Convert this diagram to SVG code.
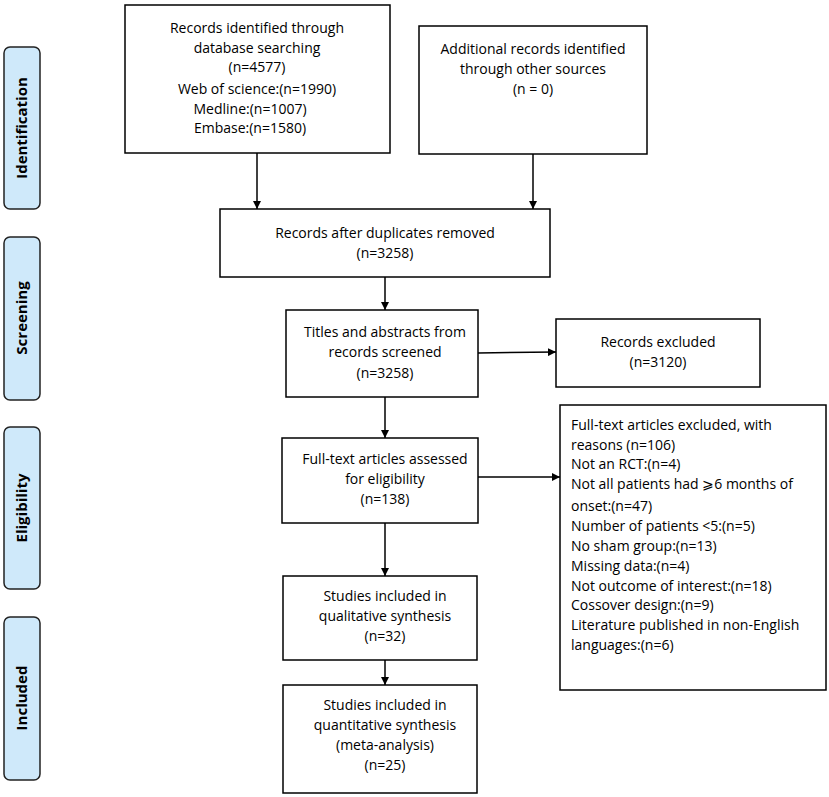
<svg xmlns="http://www.w3.org/2000/svg" width="829" height="797" viewBox="0 0 829 797">
<defs>
<marker id="ah" viewBox="0 0 10 10" refX="10" refY="5" markerWidth="8" markerHeight="8" markerUnits="userSpaceOnUse" orient="auto">
<path d="M0,0 L10,5 L0,10 z" fill="#000"/>
</marker>
<style>
.box{fill:#fff;stroke:#000;stroke-width:1.5}
.side{fill:#cfe9fa;stroke:#222;stroke-width:1.5}
.t{font-family:"Open Sans","Liberation Sans",sans-serif;font-size:14px;fill:#000;text-anchor:middle}
.l{text-anchor:start}
.s{font-family:"Open Sans","Liberation Sans",sans-serif;font-size:15px;font-weight:bold;fill:#000;text-anchor:middle}
.c{stroke:#000;stroke-width:1.5;fill:none;marker-end:url(#ah)}
</style>
</defs>
<rect width="829" height="797" fill="#fff"/>
<g id="stage-identification"><rect class="side" x="4" y="47" width="36" height="162" rx="6"/><text class="s" transform="translate(27,128) rotate(-90)">Identification</text></g>
<g id="stage-screening"><rect class="side" x="4" y="237" width="36" height="163" rx="6"/><text class="s" transform="translate(27,318) rotate(-90)">Screening</text></g>
<g id="stage-eligibility"><rect class="side" x="4" y="427" width="36" height="162" rx="6"/><text class="s" transform="translate(27,508) rotate(-90)">Eligibility</text></g>
<g id="stage-included"><rect class="side" x="4" y="617" width="36" height="163" rx="6"/><text class="s" transform="translate(27,698) rotate(-90)">Included</text></g>
<g id="db"><rect class="box" x="125" y="5" width="265" height="148"/>
<text class="t" x="257" y="33">Records identified through</text>
<text class="t" x="257" y="53">database searching</text>
<text class="t" x="257" y="72">(n=4577)</text>
<text class="t" x="257" y="94">Web of science:(n=1990)</text>
<text class="t" x="250" y="114">Medline:(n=1007)</text>
<text class="t" x="250" y="133">Embase:(n=1580)</text></g>
<g id="other"><rect class="box" x="419" y="26" width="228" height="128"/>
<text class="t" x="533" y="54">Additional records identified</text>
<text class="t" x="533" y="74">through other sources</text>
<text class="t" x="533" y="94">(n = 0)</text></g>
<g id="dup"><rect class="box" x="220" y="209" width="330" height="68"/>
<text class="t" x="385" y="238">Records after duplicates removed</text>
<text class="t" x="385" y="258">(n=3258)</text></g>
<g id="screened"><rect class="box" x="286" y="310" width="192" height="87"/>
<text class="t" x="385" y="337">Titles and abstracts from</text>
<text class="t" x="385" y="357">records screened</text>
<text class="t" x="385" y="378">(n=3258)</text></g>
<g id="excluded"><rect class="box" x="556" y="319" width="204" height="68"/>
<text class="t" x="658" y="347">Records excluded</text>
<text class="t" x="658" y="367">(n=3120)</text></g>
<g id="fulltext"><rect class="box" x="282" y="438" width="196" height="85"/>
<text class="t" x="385" y="464">Full-text articles assessed</text>
<text class="t" x="385" y="484">for eligibility</text>
<text class="t" x="385" y="504">(n=138)</text></g>
<g id="ftexcluded"><rect class="box" x="560" y="405" width="266" height="285"/>
<text class="t l" x="571" y="430">Full-text articles excluded, with</text>
<text class="t l" x="571" y="450">reasons (n=106)</text>
<text class="t l" x="571" y="469">Not an RCT:(n=4)</text>
<text class="t l" x="571" y="489">Not all patients had ⩾6 months of</text>
<text class="t l" x="571" y="511">onset:(n=47)</text>
<text class="t l" x="571" y="531">Number of patients &lt;5:(n=5)</text>
<text class="t l" x="571" y="551">No sham group:(n=13)</text>
<text class="t l" x="571" y="571">Missing data:(n=4)</text>
<text class="t l" x="571" y="591">Not outcome of interest:(n=18)</text>
<text class="t l" x="571" y="610">Cossover design:(n=9)</text>
<text class="t l" x="571" y="630">Literature published in non-English</text>
<text class="t l" x="571" y="650">languages:(n=6)</text></g>
<g id="qual"><rect class="box" x="283" y="576" width="194" height="84"/>
<text class="t" x="385" y="601">Studies included in</text>
<text class="t" x="385" y="621">qualitative synthesis</text>
<text class="t" x="385" y="641">(n=32)</text></g>
<g id="quant"><rect class="box" x="283" y="685" width="194" height="108"/>
<text class="t" x="385" y="710">Studies included in</text>
<text class="t" x="385" y="730">quantitative synthesis</text>
<text class="t" x="385" y="750">(meta-analysis)</text>
<text class="t" x="385" y="770">(n=25)</text></g>
<g id="connectors">
<line class="c" x1="257" y1="153" x2="257" y2="209"/>
<line class="c" x1="533" y1="154" x2="533" y2="209"/>
<line class="c" x1="385" y1="277" x2="385" y2="310"/>
<line class="c" x1="478" y1="353" x2="556" y2="352"/>
<line class="c" x1="385" y1="397" x2="385" y2="438"/>
<line class="c" x1="478" y1="477" x2="560" y2="477"/>
<line class="c" x1="385" y1="523" x2="385" y2="576"/>
<line class="c" x1="385" y1="660" x2="385" y2="685"/>
</g>
</svg>
